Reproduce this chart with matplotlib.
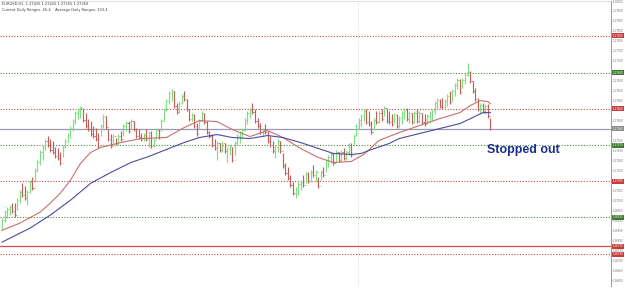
import numpy as np
import matplotlib
matplotlib.use('Agg')
import matplotlib.pyplot as plt
from matplotlib.transforms import blended_transform_factory

# hourly EURUSD bars
highs = [1.26910, 1.26950, 1.26965, 1.26975, 1.26985, 1.26985, 1.27010, 1.27050, 1.27085, 1.27070,
         1.27050, 1.27100, 1.27115, 1.27160, 1.27200, 1.27250, 1.27275, 1.27310, 1.27325, 1.27310,
         1.27300, 1.27265, 1.27260, 1.27240, 1.27275, 1.27310, 1.27340, 1.27375, 1.27410, 1.27450,
         1.27465, 1.27475, 1.27460, 1.27440, 1.27410, 1.27400, 1.27375, 1.27365, 1.27340, 1.27385,
         1.27435, 1.27425, 1.27360, 1.27335, 1.27335, 1.27315, 1.27335, 1.27350, 1.27385, 1.27400,
         1.27400, 1.27410, 1.27400, 1.27365, 1.27360, 1.27340, 1.27340, 1.27360, 1.27350, 1.27350,
         1.27315, 1.27365, 1.27360, 1.27410, 1.27465, 1.27510, 1.27550, 1.27560, 1.27550, 1.27490,
         1.27500, 1.27535, 1.27550, 1.27510, 1.27460, 1.27440, 1.27435, 1.27390, 1.27410, 1.27450,
         1.27440, 1.27400, 1.27350, 1.27335, 1.27310, 1.27300, 1.27290, 1.27300, 1.27285, 1.27265,
         1.27275, 1.27265, 1.27300, 1.27335, 1.27350, 1.27365, 1.27415, 1.27450, 1.27465, 1.27490,
         1.27460, 1.27415, 1.27390, 1.27365, 1.27385, 1.27350, 1.27325, 1.27300, 1.27275, 1.27310,
         1.27300, 1.27235, 1.27185, 1.27165, 1.27125, 1.27090, 1.27065, 1.27090, 1.27100, 1.27125,
         1.27140, 1.27140, 1.27150, 1.27175, 1.27150, 1.27115, 1.27150, 1.27165, 1.27200, 1.27225,
         1.27240, 1.27235, 1.27250, 1.27240, 1.27250, 1.27260, 1.27250, 1.27285, 1.27285, 1.27335,
         1.27385, 1.27415, 1.27435, 1.27460, 1.27460, 1.27450, 1.27400, 1.27415, 1.27450, 1.27450,
         1.27460, 1.27475, 1.27460, 1.27450, 1.27435, 1.27440, 1.27435, 1.27425, 1.27450, 1.27465,
         1.27465, 1.27450, 1.27440, 1.27450, 1.27460, 1.27450, 1.27440, 1.27435, 1.27435, 1.27450,
         1.27460, 1.27500, 1.27515, 1.27510, 1.27515, 1.27510, 1.27535, 1.27550, 1.27560, 1.27590,
         1.27615, 1.27610, 1.27615, 1.27640, 1.27690, 1.27650, 1.27600, 1.27565, 1.27515, 1.27490,
         1.27490, 1.27485, 1.27485, 1.27415]
lows = [1.26850, 1.26890, 1.26910, 1.26925, 1.26935, 1.26915, 1.26950, 1.26985, 1.27015, 1.27000,
        1.26975, 1.27035, 1.27050, 1.27090, 1.27140, 1.27175, 1.27200, 1.27250, 1.27265, 1.27240,
        1.27230, 1.27210, 1.27200, 1.27175, 1.27215, 1.27260, 1.27285, 1.27315, 1.27350, 1.27385,
        1.27410, 1.27415, 1.27395, 1.27365, 1.27350, 1.27325, 1.27315, 1.27300, 1.27260, 1.27325,
        1.27365, 1.27360, 1.27300, 1.27260, 1.27285, 1.27275, 1.27275, 1.27300, 1.27325, 1.27350,
        1.27340, 1.27360, 1.27350, 1.27315, 1.27310, 1.27300, 1.27300, 1.27300, 1.27265, 1.27260,
        1.27265, 1.27310, 1.27310, 1.27350, 1.27400, 1.27450, 1.27485, 1.27500, 1.27465, 1.27435,
        1.27440, 1.27485, 1.27500, 1.27450, 1.27400, 1.27400, 1.27365, 1.27325, 1.27360, 1.27400,
        1.27385, 1.27335, 1.27315, 1.27265, 1.27250, 1.27200, 1.27240, 1.27240, 1.27235, 1.27190,
        1.27225, 1.27190, 1.27225, 1.27275, 1.27290, 1.27315, 1.27350, 1.27385, 1.27415, 1.27435,
        1.27390, 1.27365, 1.27335, 1.27325, 1.27335, 1.27290, 1.27265, 1.27235, 1.27210, 1.27240,
        1.27235, 1.27160, 1.27125, 1.27100, 1.27065, 1.27025, 1.27010, 1.27025, 1.27050, 1.27065,
        1.27085, 1.27085, 1.27090, 1.27115, 1.27090, 1.27060, 1.27100, 1.27115, 1.27140, 1.27165,
        1.27185, 1.27175, 1.27190, 1.27190, 1.27190, 1.27200, 1.27200, 1.27225, 1.27215, 1.27275,
        1.27325, 1.27360, 1.27375, 1.27400, 1.27385, 1.27375, 1.27335, 1.27360, 1.27385, 1.27390,
        1.27400, 1.27425, 1.27390, 1.27385, 1.27375, 1.27390, 1.27365, 1.27365, 1.27385, 1.27410,
        1.27400, 1.27390, 1.27385, 1.27390, 1.27390, 1.27390, 1.27385, 1.27375, 1.27385, 1.27390,
        1.27400, 1.27435, 1.27460, 1.27465, 1.27460, 1.27465, 1.27475, 1.27485, 1.27500, 1.27525,
        1.27560, 1.27535, 1.27565, 1.27585, 1.27625, 1.27590, 1.27540, 1.27500, 1.27450, 1.27440,
        1.27440, 1.27435, 1.27415, 1.27355]
closes = [1.26900, 1.26940, 1.26955, 1.26965, 1.26945, 1.26925, 1.27000, 1.27040, 1.27025, 1.27010,
          1.27040, 1.27090, 1.27060, 1.27150, 1.27190, 1.27240, 1.27265, 1.27300, 1.27275, 1.27250,
          1.27240, 1.27220, 1.27210, 1.27185, 1.27265, 1.27300, 1.27330, 1.27365, 1.27400, 1.27440,
          1.27455, 1.27465, 1.27405, 1.27375, 1.27360, 1.27335, 1.27325, 1.27310, 1.27270, 1.27375,
          1.27425, 1.27370, 1.27310, 1.27270, 1.27325, 1.27285, 1.27325, 1.27310, 1.27375, 1.27390,
          1.27350, 1.27400, 1.27360, 1.27325, 1.27320, 1.27310, 1.27330, 1.27310, 1.27340, 1.27270,
          1.27305, 1.27355, 1.27320, 1.27400, 1.27455, 1.27500, 1.27540, 1.27550, 1.27475, 1.27445,
          1.27490, 1.27525, 1.27510, 1.27460, 1.27410, 1.27430, 1.27375, 1.27335, 1.27400, 1.27440,
          1.27395, 1.27345, 1.27325, 1.27275, 1.27260, 1.27290, 1.27250, 1.27290, 1.27245, 1.27255,
          1.27265, 1.27200, 1.27290, 1.27325, 1.27340, 1.27355, 1.27405, 1.27440, 1.27455, 1.27445,
          1.27400, 1.27375, 1.27345, 1.27355, 1.27345, 1.27300, 1.27275, 1.27245, 1.27265, 1.27300,
          1.27245, 1.27170, 1.27135, 1.27110, 1.27075, 1.27035, 1.27055, 1.27080, 1.27090, 1.27075,
          1.27130, 1.27095, 1.27140, 1.27125, 1.27140, 1.27070, 1.27140, 1.27125, 1.27190, 1.27215,
          1.27230, 1.27185, 1.27240, 1.27200, 1.27240, 1.27210, 1.27240, 1.27275, 1.27225, 1.27325,
          1.27375, 1.27405, 1.27425, 1.27450, 1.27395, 1.27385, 1.27345, 1.27405, 1.27395, 1.27440,
          1.27410, 1.27465, 1.27400, 1.27395, 1.27385, 1.27430, 1.27375, 1.27415, 1.27440, 1.27455,
          1.27410, 1.27440, 1.27395, 1.27440, 1.27400, 1.27440, 1.27395, 1.27385, 1.27425, 1.27440,
          1.27450, 1.27490, 1.27505, 1.27475, 1.27470, 1.27500, 1.27525, 1.27495, 1.27550, 1.27580,
          1.27605, 1.27545, 1.27605, 1.27630, 1.27645, 1.27600, 1.27550, 1.27510, 1.27460, 1.27480,
          1.27450, 1.27475, 1.27425, 1.27360]

# moving averages, sampled at some bars
ma_fast_idx = [0, 7, 15, 19, 23, 27, 31, 35, 39, 47, 55, 65, 72, 78, 85, 91, 98, 105, 111, 118,
               125, 131, 138, 143, 149, 157, 165, 173, 181, 185, 189, 192, 193]
ma_fast = [1.26850, 1.26885, 1.26940, 1.26985, 1.27035, 1.27100, 1.27185, 1.27240, 1.27265, 1.27290,
           1.27310, 1.27315, 1.27365, 1.27400, 1.27395, 1.27355, 1.27320, 1.27350, 1.27315, 1.27260,
           1.27215, 1.27190, 1.27195, 1.27230, 1.27300, 1.27340, 1.27375, 1.27410, 1.27440, 1.27475,
           1.27500, 1.27495, 1.27485]
ma_slow_idx = [0, 11, 19, 27, 35, 43, 51, 58, 66, 72, 78, 85, 91, 98, 105, 111, 118, 125, 131, 138,
               142, 145, 153, 157, 165, 173, 181, 186, 190, 193]
ma_slow = [1.26790, 1.26860, 1.26925, 1.27000, 1.27085, 1.27140, 1.27190, 1.27220, 1.27260, 1.27290,
           1.27315, 1.27330, 1.27315, 1.27310, 1.27325, 1.27315, 1.27290, 1.27260, 1.27235, 1.27230,
           1.27235, 1.27250, 1.27285, 1.27310, 1.27335, 1.27360, 1.27385, 1.27415, 1.27440, 1.27440]

# horizontal levels and their kind
levels = [1.27825, 1.27640, 1.27460, 1.27360, 1.27275, 1.27095, 1.26915, 1.26770, 1.26730]
level_kind = ['r:', 'g:', 'r:', 'bid', 'g:', 'r:', 'g:', 'r-', 'r:']

title1 = 'EURUSD,H1  1.27425 1.27425 1.27355 1.27360'
title2 = 'Current Daily Ranges: 65.4    Average Daily Ranges: 103.4'

GREEN = '#80de80'
RED = '#c0605a'

fig = plt.figure(figsize=(6.25, 2.88), dpi=100)
ax = fig.add_axes([0.0, 2 / 288, 611 / 625, 285 / 288])

highs = np.array(highs)
lows = np.array(lows)
closes = np.array(closes)
opens = np.r_[lows[0], closes[:-1]]
idx = np.arange(len(closes))
up = closes >= opens
cols = np.where(up, GREEN, RED)

for yv, kind in zip(levels, level_kind):
    if kind == 'bid':
        ax.axhline(yv, color='#9a9ab4', lw=0.9, zorder=1)
    elif kind == 'r-':
        ax.axhline(yv, color='#d05050', lw=0.9, zorder=1)
    elif kind == 'r:':
        ax.axhline(yv, color='#c05050', lw=0.8, ls=(0, (1, 1.5)), zorder=1)
    else:
        ax.axhline(yv, color='#4f8a3a', lw=0.8, ls=(0, (1, 1.5)), zorder=1)

# day separator
ax.axvline(140.7, color='#c8c8c8', lw=0.6, ls=(0, (1, 2)), zorder=0)

ax.vlines(idx, lows, highs, colors=cols, lw=0.85, zorder=2)
ax.hlines(opens, idx - 0.45, idx, colors=cols, lw=0.6, zorder=2)
ax.hlines(closes, idx, idx + 0.45, colors=cols, lw=0.6, zorder=2)

ax.plot(ma_fast_idx, ma_fast, color='#c87070', lw=0.8, zorder=3)
ax.plot(ma_slow_idx, ma_slow, color='#4c4c9c', lw=0.8, zorder=3)

ax.set_xlim(-0.8, 240.7)
ax.set_ylim(1.26570, 1.27995)

# right price scale, skipping ticks hidden behind the tags
ticks = [t for t in np.arange(1.2660, 1.2800, 0.0005)
         if min(abs(t - lv) for lv in levels) > 0.00012]
ax.yaxis.tick_right()
ax.set_yticks(ticks)
ax.yaxis.set_major_formatter(matplotlib.ticker.FormatStrFormatter('%.5f'))
ax.tick_params(axis='y', labelsize=1.9, colors='#707070', length=0.6, width=0.4, pad=0.4)
ax.set_xticks([])
for s in ['left', 'bottom']:
    ax.spines[s].set_visible(False)
ax.spines['right'].set_color('#999999')
ax.spines['right'].set_linewidth(0.7)
ax.spines['top'].set_color('#d0d0d0')
ax.spines['top'].set_linewidth(0.5)

# price tags on the right axis
trans = blended_transform_factory(ax.transAxes, ax.transData)
tag_col = {'r:': '#c83c3c', 'r-': '#c83c3c', 'g:': '#3c7a2c', 'bid': '#8a8a8a'}
for yv, kind in zip(levels, level_kind):
    ax.text(1.003, yv, '%.5f' % yv, transform=trans, fontsize=1.9, color='white',
            va='center', ha='left', zorder=5, clip_on=False,
            bbox=dict(boxstyle='square,pad=0.2', fc=tag_col[kind], ec='none'))

ax.text(0.004, 0.995, title1, transform=ax.transAxes, fontsize=2.6, color='#404040',
        va='top', ha='left')
ax.text(0.004, 0.975, title2, transform=ax.transAxes, fontsize=2.6, color='#404040',
        va='top', ha='left')

ax.text(191.7, 1.27250, 'Stopped out', fontsize=9, fontweight='bold', color='#1c2f8f',
        family='Liberation Sans', va='center', ha='left', zorder=6)

fig.savefig('out.png', dpi=100, facecolor='white')
